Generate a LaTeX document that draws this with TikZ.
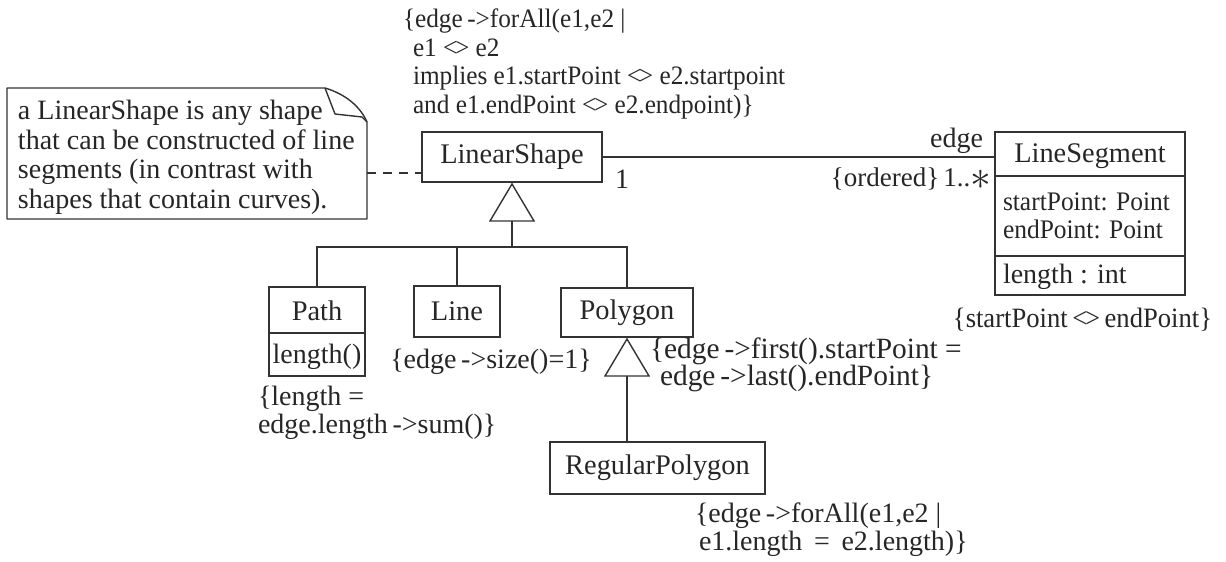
\documentclass[tikz,border=0pt]{standalone}
\usepackage{fontspec}
\setmainfont{Liberation Serif}
\newfontfamily\narrowserif{Liberation Serif}[FakeStretch=0.95]
% the "<>" operator set with its two halves close together
\newcommand\ltgt{<\kern-1.2pt>}
\begin{document}
\begin{tikzpicture}[x=0.5pt,y=-0.5pt,
  every node/.style={inner sep=0pt, outer sep=0pt, text=black!85},
  txt/.style={font=\fontsize{14}{14}\selectfont, align=left},
  cls/.style={draw=black!80, line width=0.7pt, rectangle, font=\fontsize{14.2}{14.2}\selectfont},
  conn/.style={draw=black!80, line width=0.7pt},
  gen/.style={draw=black!80, line width=0.7pt, fill=white, line join=miter}]
\useasboundingbox (0,0) rectangle (1226,562);

% ---- classes ----
\node[cls, minimum width=90pt, minimum height=25pt] (lshape) at (512,157) {LinearShape};
\node[cls, minimum width=95pt, minimum height=81.5pt] (lseg) at (1090,213.5) {};
\node[cls, minimum width=48pt, minimum height=44.5pt] (path) at (317,331.5) {};
\node[cls, minimum width=43pt, minimum height=25.5pt] (line) at (457,311.5) {Line};
\node[cls, minimum width=66pt, minimum height=24.5pt] (poly) at (627,312.5) {Polygon};
\node[cls, minimum width=107.5pt, minimum height=26pt] (rpoly) at (657.5,468) {RegularPolygon};

% compartments of LineSegment
\draw[conn] (lseg.west |- 0,176) -- (lseg.east |- 0,176);
\draw[conn] (lseg.west |- 0,256) -- (lseg.east |- 0,256);
\node[txt, font=\fontsize{14.2}{14.2}\selectfont, anchor=base] (lsegname) at (1090,162) {LineSegment};
\node[txt, font=\narrowserif\fontsize{13.4}{14}\selectfont, anchor=base west] (lsegattr) at (1003,238) {startPoint: Point\\endPoint: Point};
\node[txt, anchor=base west] (lsegop) at (1003,283) {length : int};

% compartments of Path
\draw[conn] (path.west |- 0,333) -- (path.east |- 0,333);
\node[txt, font=\fontsize{14.2}{14.2}\selectfont, anchor=base] (pathname) at (317,320) {Path};
\node[txt, anchor=base] (pathop) at (317,363) {length()};

% ---- note ----
\coordinate (nA) at (7,88);
\coordinate (nB) at (325,88);
\coordinate (nC) at (367,122);
\coordinate (nD) at (367,219);
\coordinate (nE) at (7,219);
\draw[conn, line join=round] (nA) -- (nB) .. controls (345,94) and (360,106) .. (nC) -- (nD) -- (nE) -- cycle;
\draw[conn, line join=round] (nB) -- (335,114) -- (362,117) -- (nC);
\node[txt, font=\fontsize{14}{14.7}\selectfont, anchor=base west] (notetext) at (18,208)
  {a LinearShape is any shape\\that can be constructed of line\\segments (in contrast with\\shapes that contain curves).};
\coordinate (noteR) at (367,173);
\draw[conn, dash pattern=on 4.5pt off 3.5pt] (noteR) -- (lshape.west |- noteR);

% ---- association ----
\draw[conn] (lshape.east) -- (lseg.west |- lshape.east);
\node[txt, anchor=base west] (m1) at (615,188) {1};
\node[txt, anchor=base east] (role) at (983,147) {edge};
\node[txt, font=\fontsize{13.5}{13.5}\selectfont, anchor=base east] (mult) at (991,186)
  {\{ordered\}\kern2pt1..\raisebox{-1.5pt}{\fontsize{22}{22}\selectfont$\ast$}};

% ---- generalizations ----
\coordinate (g1) at (512,184);
\draw[gen] (g1) -- ++(22,37) -- ++(-44,0) -- cycle;
\coordinate (g1b) at (512,221);
\coordinate (bar) at (512,247);
\draw[conn] (g1b) -- (bar);
\draw[conn] (path.north) |- (bar) -| (poly.north);
\draw[conn] (line.north) -- (line.north |- bar);

\coordinate (g2) at (627,339);
\draw[gen] (g2) -- ++(22,37) -- ++(-44,0) -- cycle;
\coordinate (g2b) at (627,376);
\draw[conn] (g2b) -- (g2b |- rpoly.north);

% ---- constraints ----
\node[txt, font=\narrowserif\fontsize{13.3}{14.25}\selectfont, anchor=base west] (c1) at (403,113)
  {\{edge\,->forAll(e1,e2 |\\\hspace{5pt}e1 \ltgt{} e2\\\hspace{5pt}implies e1.startPoint \ltgt{} e2.startpoint\\\hspace{5pt}and e1.endPoint \ltgt{} e2.endpoint)\}};
\node[txt, font=\fontsize{14}{12.5}\selectfont, anchor=base west] (c2) at (258,433) {\{length =\\edge.length\,->sum()\}};
\node[txt, anchor=base] (c3) at (491,368) {\{edge\,->size()=1\}};
\node[txt, font=\fontsize{14.7}{13.5}\selectfont, anchor=base west] (c4) at (650,385) {\{edge\,->first().startPoint =\\\hspace{5pt}edge\,->last().endPoint\}};
\node[txt, font=\narrowserif\fontsize{14}{14}\selectfont, anchor=base east] (c5) at (1212,327) {\{startPoint\,\ltgt\,endPoint\}};
\node[txt, font=\fontsize{14}{12.5}\selectfont, anchor=base west] (c6) at (695,550) {\{edge\,->forAll(e1,e2 |\\\hspace{2pt}e1.length\ \,=\ \,e2.length)\}};
\end{tikzpicture}
\end{document}
